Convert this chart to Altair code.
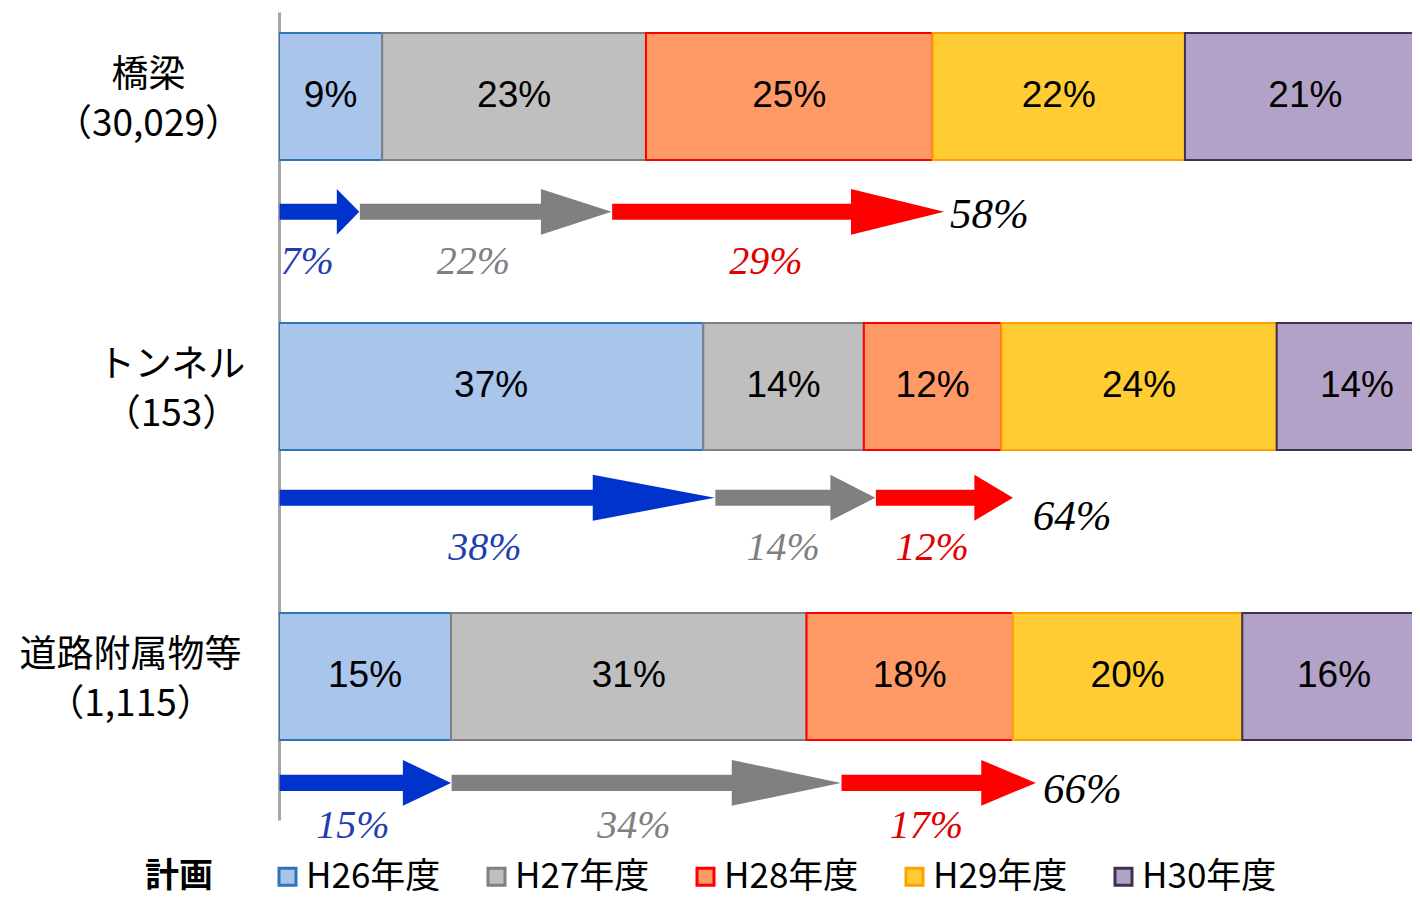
import json
import altair as alt
import pandas as pd

# ---------------- data ----------------
categories = ["橋梁", "トンネル", "道路附属物等"]
counts = ["（30,029）", "（153）", "（1,115）"]
years = ["H26年度", "H27年度", "H28年度", "H29年度", "H30年度"]
plan_bridge = [9, 23, 25, 22, 21]
plan_tunnel = [37, 14, 12, 24, 14]
plan_road = [15, 31, 18, 20, 16]
stages = ["H26", "H27", "H28"]
actual_bridge = [7, 22, 29]
actual_tunnel = [38, 14, 12]
actual_road = [15, 34, 17]
totals = [58, 64, 66]

plans = [plan_bridge, plan_tunnel, plan_road]
actuals = [actual_bridge, actual_tunnel, actual_road]

# ---------------- styles / layout ----------------
fills = ["#A9C5EB", "#BFBFBF", "#FF9966", "#FFCC33", "#B3A2C7"]
strokes = ["#2E75B6", "#808080", "#FF0000", "#FFA000", "#403152"]
arrow_colors = ["#0033CC", "#808080", "#FF0000"]
label_colors = ["#1F3FB0", "#808080", "#E00000"]

BAR_HALF = 0.219
ARROW_OFF = [0.398, 0.384, 0.367]
LABEL_OFF = [0.571, 0.557, 0.515]
TOTAL_OFF = [0.409, 0.45, 0.391]
TOTAL_PAD = [0.0, 1.2, 0.1]
SHAFT_HALF = 0.0276
HEAD_HALF = 0.079
HEAD_FRAC = 0.28

# ---------------- tables ----------------
bar_rows = []
for i, vals in enumerate(plans):
    cum = 0
    for y, v in zip(years, vals):
        bar_rows.append(dict(row=i, year=y, start=cum, end=cum + v,
                             mid=cum + v / 2, label=f"{v}%",
                             y0=i - BAR_HALF, y1=i + BAR_HALF, yc=i))
        cum += v
bars_df = pd.DataFrame(bar_rows)

shaft_rows, head_rows, lab_rows, tot_rows = [], [], [], []
for i, vals in enumerate(actuals):
    cum = 0
    c = i + ARROW_OFF[i]
    for k, (s, v) in enumerate(zip(stages, vals)):
        start, end = cum, cum + v
        base = end - HEAD_FRAC * v
        aid = f"{i}-{k}"
        shaft_rows.append(dict(aid=aid, stage=s, x0=start + 0.05, x1=base + 0.2,
                               y0=c - SHAFT_HALF, y1=c + SHAFT_HALF))
        head_rows.append(dict(aid=aid, stage=s, hx=base, yt=c - HEAD_HALF,
                              yb=c + HEAD_HALF))
        head_rows.append(dict(aid=aid, stage=s, hx=end, yt=c, yb=c))
        lab_rows.append(dict(stage=s, x=(start + end) / 2, y=i + LABEL_OFF[i],
                             label=f"{v}%"))
        cum = end
    tot_rows.append(dict(x=cum + TOTAL_PAD[i], y=i + TOTAL_OFF[i],
                         label=f"{totals[i]}%"))
shaft_df = pd.DataFrame(shaft_rows)
head_df = pd.DataFrame(head_rows).sort_values(["aid", "hx"]).reset_index(drop=True)
lab_df = pd.DataFrame(lab_rows)
tot_df = pd.DataFrame(tot_rows)

# ---------------- scales / axes ----------------
W, H = 1133, 808
xs = alt.Scale(domain=[0, 98.8], nice=False, zero=False)
ys = alt.Scale(domain=[-0.291, 2.495], reverse=True, nice=False, zero=False)
arrow_scale = alt.Scale(domain=stages, range=arrow_colors)
label_scale = alt.Scale(domain=stages, range=label_colors)

axis_labels = json.dumps([[c, n] for c, n in zip(categories, counts)],
                         ensure_ascii=False)
y_axis = alt.Axis(values=[0, 1, 2], labelExpr=f"{axis_labels}[datum.value]",
                  domain=True, domainColor="#A6A6A6", domainWidth=3,
                  ticks=False, grid=False, labelFont="Noto Sans CJK JP",
                  labelFontSize=37, labelColor="black", labelAlign="center",
                  labelBaseline="middle", labelLimit=400,
                  labelPadding={"condition": [
                      {"test": "datum.value == 1", "value": 108},
                      {"test": "datum.value == 2", "value": 149}],
                      "value": 131},
                  labelOffset=-21, labelLineHeight=49, title=None)

legend = alt.Legend(
    title="計画", orient="none", legendX=-134, legendY=847,
    direction="horizontal", titleOrient="left",
    titleFont="Noto Sans CJK JP", titleFontSize=34, titleFontWeight="bold",
    titleColor="black", titlePadding=57, titleBaseline="middle",
    labelFont="Noto Sans CJK JP", labelFontSize=35, labelColor="black",
    labelOffset=1, symbolType="square", symbolSize=289, symbolStrokeWidth=3,
    columnPadding=38,
)

bars = alt.Chart(bars_df).mark_rect(strokeWidth=2, clip=True).encode(
    x=alt.X("start:Q", scale=xs, axis=None),
    x2="end:Q",
    y=alt.Y("y0:Q", scale=ys, title=None, axis=y_axis),
    y2="y1:Q",
    fill=alt.Fill("year:N", scale=alt.Scale(domain=years, range=fills), legend=legend),
    stroke=alt.Stroke("year:N", scale=alt.Scale(domain=years, range=strokes), legend=legend),
)

bar_text = alt.Chart(bars_df).mark_text(
    font="Liberation Sans", fontSize=37, color="black", baseline="middle"
).encode(
    x=alt.X("mid:Q", scale=xs, axis=None),
    y=alt.Y("yc:Q", scale=ys, title=None, axis=y_axis),
    text="label:N",
)

shafts = alt.Chart(shaft_df).mark_rect().encode(
    x=alt.X("x0:Q", scale=xs, axis=None), x2="x1:Q",
    y=alt.Y("y0:Q", scale=ys, title=None, axis=y_axis), y2="y1:Q",
    color=alt.Color("stage:N", scale=arrow_scale, legend=None),
)

heads = alt.Chart(head_df).mark_area(orient="vertical").encode(
    x=alt.X("hx:Q", scale=xs, axis=None),
    y=alt.Y("yt:Q", scale=ys, title=None, axis=y_axis, stack=False),
    y2="yb:Q",
    detail="aid:N",
    color=alt.Color("stage:N", scale=arrow_scale, legend=None),
)

arrow_labels = alt.Chart(lab_df).mark_text(
    font="Liberation Serif", fontStyle="italic", fontSize=40, baseline="middle", dx=-12
).encode(
    x=alt.X("x:Q", scale=xs, axis=None),
    y=alt.Y("y:Q", scale=ys, title=None, axis=y_axis),
    text="label:N",
    color=alt.Color("stage:N", scale=label_scale, legend=None),
)

total_labels = alt.Chart(tot_df).mark_text(
    font="Liberation Serif", fontStyle="italic", fontSize=43, baseline="middle",
    align="left", dx=6, color="black"
).encode(
    x=alt.X("x:Q", scale=xs, axis=None),
    y=alt.Y("y:Q", scale=ys, title=None, axis=y_axis),
    text="label:N",
)

chart = alt.layer(bars, bar_text, shafts, heads, arrow_labels, total_labels).resolve_scale(
    color="independent"
).properties(
    width=W, height=H,
    autosize=alt.AutoSizeParams(type="none"),
    padding={"left": 271, "top": 4, "right": 0, "bottom": 78},
).configure_view(stroke=None)

chart.save("out.html", embed_options={"renderer": "svg", "actions": False})
